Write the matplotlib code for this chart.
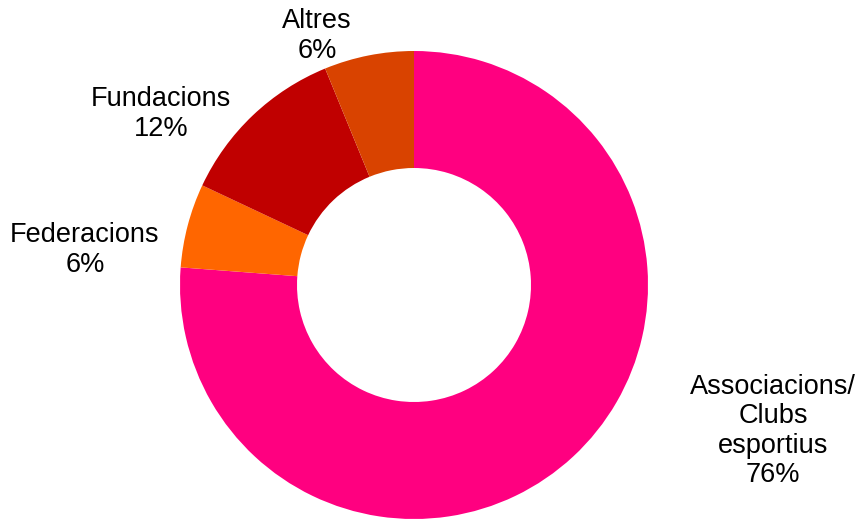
import matplotlib
matplotlib.use("Agg")
import matplotlib.pyplot as plt

categories = ["Associacions/\nClubs\nesportius", "Federacions", "Fundacions", "Altres"]
values = [76.2, 5.8, 11.8, 6.2]
pct_labels = ["76%", "6%", "12%", "6%"]
colors = ["#FF0080", "#FF6600", "#C00000", "#D94300"]

W, H = 857, 521
fig = plt.figure(figsize=(W / 100, H / 100), dpi=100)
ax = fig.add_axes([0, 0, 1, 1])
cx, cy, R = 414, H - 285, 234
ax.pie(values, colors=colors, startangle=90, counterclock=False,
       center=(cx, cy), radius=R,
       wedgeprops=dict(width=R * 0.5, linewidth=0))
ax.set_xlim(0, W)
ax.set_ylim(0, H)
ax.set_aspect("equal")
ax.axis("off")

label_pos = [(773, 431), (85, 250), (161, 114), (317, 36)]
for cat, pct, (x, y) in zip(categories, pct_labels, label_pos):
    ax.text(x, H - y, f"{cat}\n{pct}", ha="center", va="center",
            fontsize=19.5, family="Liberation Sans", linespacing=1.17, color="black")

fig.savefig("out.png", dpi=100)
